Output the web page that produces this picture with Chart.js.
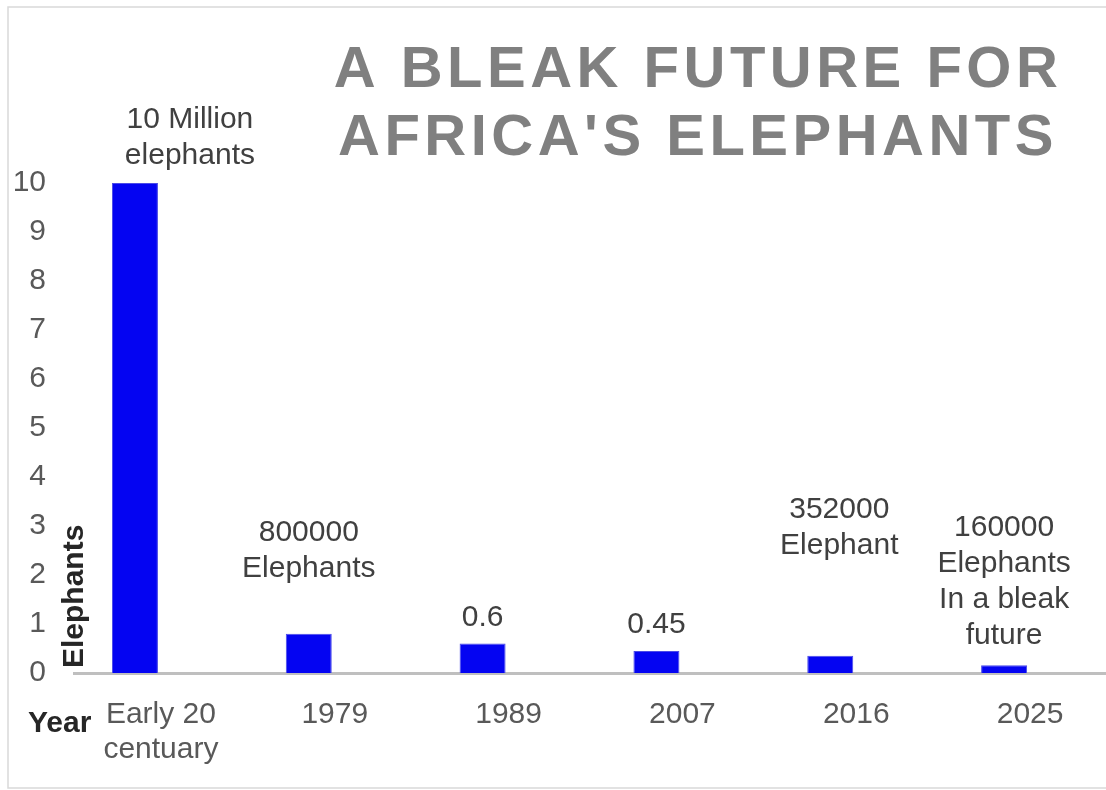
<!DOCTYPE html>
<html>
<head>
<meta charset="utf-8">
<script src="https://cdn.jsdelivr.net/npm/chart.js@4"></script>
<style>
  html, body { margin: 0; padding: 0; background: #fff; overflow: hidden; }
  #wrap { width: 1106px; height: 790px; overflow: hidden; }
</style>
</head>
<body>
<div id="wrap"><canvas id="barChart" width="1117" height="790"></canvas></div>
<script>
const years = [['Early 20', 'centuary'], '1979', '1989', '2007', '2016', '2025'];
const elephantsMillions = [10, 0.8, 0.6, 0.45, 0.352, 0.16];
const barLabels = [
  ['10 Million', 'elephants'],
  ['800000', 'Elephants'],
  ['0.6'],
  ['0.45'],
  ['352000', 'Elephant'],
  ['160000', 'Elephants', 'In a bleak', 'future']
];
const titleLines = ['A BLEAK FUTURE FOR', "AFRICA'S ELEPHANTS"];

// where each label sits relative to its bar (x shift, gap from bar top to last baseline)
const labelNudge = [
  { dx: 55, gap: 19 },
  { dx: 0, gap: 57 },
  { dx: 0, gap: 18 },
  { dx: 0, gap: 18 },
  { dx: 9, gap: 102 },
  { dx: 0, gap: 21 }
];

const FONT = '"Liberation Sans", Arial, sans-serif';

const framePlugin = {
  id: 'frame',
  beforeDraw(chart) {
    const c = chart.ctx;
    c.save();
    c.fillStyle = '#fff';
    c.fillRect(0, 0, chart.width, chart.height);
    c.strokeStyle = '#d9d9d9';
    c.lineWidth = 1.5;
    c.strokeRect(8, 7, 2000, 781);
    c.restore();
  }
};

const textPlugin = {
  id: 'texts',
  afterDraw(chart) {
    const c = chart.ctx;
    c.save();
    // title
    c.fillStyle = '#808080';
    c.font = `bold 58px ${FONT}`;
    c.textAlign = 'center';
    c.textBaseline = 'alphabetic';
    c.letterSpacing = '4.5px';
    c.fillText(titleLines[0], 698, 87);
    c.fillText(titleLines[1], 698, 155);
    c.letterSpacing = '0px';

    // axis titles
    c.fillStyle = '#262626';
    c.font = `bold 30px ${FONT}`;
    c.textAlign = 'left';
    c.fillText('Year', 28, 732);
    c.save();
    c.translate(83, 668);
    c.rotate(-Math.PI / 2);
    c.fillText('Elephants', 0, 0);
    c.restore();

    // bar labels
    c.fillStyle = '#404040';
    c.font = `30px ${FONT}`;
    c.textAlign = 'center';
    const meta = chart.getDatasetMeta(0);
    meta.data.forEach((bar, i) => {
      const lines = barLabels[i];
      const n = labelNudge[i];
      const last = bar.y - n.gap;
      lines.forEach((t, k) => {
        c.fillText(t, bar.x + n.dx, last - (lines.length - 1 - k) * 36);
      });
    });
    c.restore();
  }
};

const ctx = document.getElementById('barChart').getContext('2d');
new Chart(ctx, {
  type: 'bar',
  data: {
    labels: years,
    datasets: [
      {
        label: 'Elephants',
        data: elephantsMillions,
        backgroundColor: '#0404f2',
        borderColor: '#4a4ae8',
        borderWidth: 1,
        categoryPercentage: 0.598,
        barPercentage: 0.885
      },
      {
        label: 'Series 2',
        data: [],
        categoryPercentage: 0.598,
        barPercentage: 0.885
      }
    ]
  },
  options: {
    responsive: false,
    animation: false,
    layout: { padding: { top: 183, left: 0, right: 0, bottom: 0 } },
    plugins: {
      legend: { display: false },
      tooltip: { enabled: false }
    },
    scales: {
      x: {
        grid: { display: false, drawTicks: false },
        border: { display: true, color: '#bfbfbf', width: 3 },
        ticks: {
          color: '#595959',
          font: { family: FONT, size: 30, lineHeight: 1.17 },
          padding: 24,
          maxRotation: 0,
          autoSkip: false
        },
        afterFit(scale) { scale.height = 117; }
      },
      y: {
        min: 0,
        max: 10,
        grid: { display: false, drawTicks: false },
        border: { display: false },
        ticks: {
          stepSize: 1,
          color: '#595959',
          font: { family: FONT, size: 30 },
          padding: 28
        },
        afterFit(scale) { scale.width = 74; }
      }
    }
  },
  plugins: [framePlugin, textPlugin]
});
</script>
</body>
</html>
